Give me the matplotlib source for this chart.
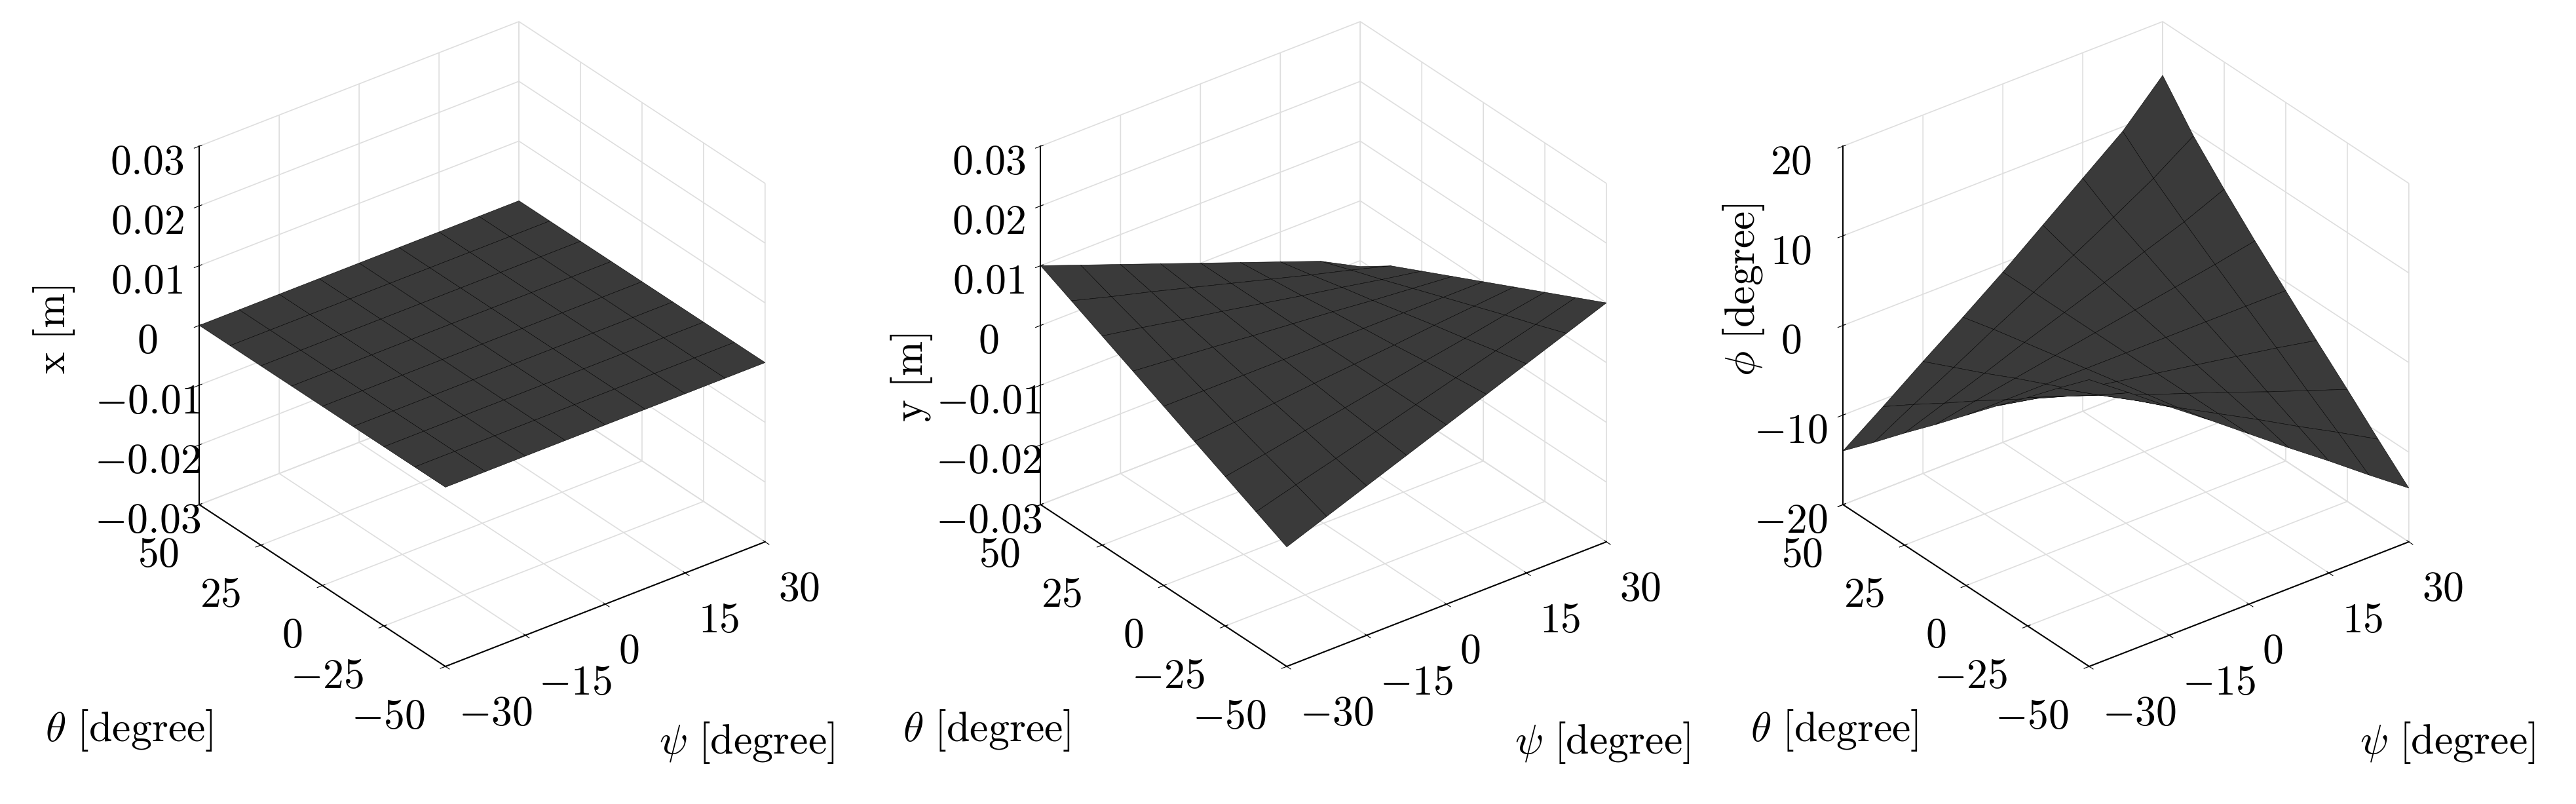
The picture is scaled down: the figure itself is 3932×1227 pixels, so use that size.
import numpy as np
import matplotlib
matplotlib.use("Agg")
import matplotlib.pyplot as plt

plt.rcParams['mathtext.fontset'] = 'cm'
plt.rcParams['font.family'] = ['DejaVu Serif']

psi = [-30, -22.5, -15, -7.5, 0, 7.5, 15, 22.5, 30]
theta = [-50, -37.5, -25, -12.5, 0, 12.5, 25, 37.5, 50]
# rows: theta, cols: psi
x_vals = [[0.0]*9 for _ in range(9)]
# y in mm
y_mm = [
    [-10, -7.5, -5, -2.5, 0, 2.5, 5, 7.5, 10],
    [-7.5, -5.6, -3.8, -1.9, 0, 1.9, 3.8, 5.6, 7.5],
    [-5, -3.8, -2.5, -1.3, 0, 1.3, 2.5, 3.8, 5],
    [-2.5, -1.9, -1.3, -0.6, 0, 0.6, 1.3, 1.9, 2.5],
    [0, 0, 0, 0, 0, 0, 0, 0, 0],
    [2.5, 1.9, 1.3, 0.6, 0, -0.6, -1.3, -1.9, -2.5],
    [5, 3.8, 2.5, 1.3, 0, -1.3, -2.5, -3.8, -5],
    [7.5, 5.6, 3.8, 1.9, 0, -1.9, -3.8, -5.6, -7.5],
    [10, 7.5, 5, 2.5, 0, -2.5, -5, -7.5, -11],
]
phi_vals = [
    [12, 8.8, 5.5, 2.3, -1, -4.3, -7.5, -10.8, -14],
    [8.8, 6.3, 3.9, 1.4, -1, -3.4, -5.9, -8.3, -10.8],
    [5.5, 3.9, 2.3, 0.6, -1, -2.6, -4.3, -5.9, -7.5],
    [2.3, 1.4, 0.6, -0.2, -1, -1.8, -2.6, -3.4, -4.3],
    [-1, -1, -1, -1, -1, -1, -1, -1, -1],
    [-4.3, -3.4, -2.6, -1.8, -1, -0.2, 0.6, 1.4, 2.3],
    [-7.5, -5.9, -4.3, -2.6, -1, 0.6, 2.3, 3.9, 5.8],
    [-10.8, -8.3, -5.9, -3.4, -1, 1.4, 3.9, 6.5, 9.5],
    [-14, -10.8, -7.5, -4.3, -1, 2.5, 6, 9.5, 14],
]
y_vals = (np.array(y_mm) / 1000.0).tolist()

zt_m = [-0.03, -0.02, -0.01, 0, 0.01, 0.02, 0.03]
ztl_m = ['$-0.03$', '$-0.02$', '$-0.01$', '$0$', '$0.01$', '$0.02$', '$0.03$']
panels = [
    (x_vals, r'$\mathrm{x\ [m]}$', zt_m, ztl_m, (-0.03, 0.03)),
    (y_vals, r'$\mathrm{y\ [m]}$', zt_m, ztl_m, (-0.03, 0.03)),
    (phi_vals, r'$\phi\ \mathrm{[degree]}$', [-20, -10, 0, 10, 20],
     ['$-20$', '$-10$', '$0$', '$10$', '$20$'], (-20, 20)),
]
psi_ticks = [-30, -15, 0, 15, 30]
theta_ticks = [-50, -25, 0, 25, 50]

fig = plt.figure(figsize=(39.32, 12.27), dpi=100)
P, T = np.meshgrid(psi, theta)
fs = 46
lfs = 46
lefts = [0.0434, 0.370, 0.6815]
theta_lab = [(0.050, 0.092), (0.383, 0.092), (0.712, 0.092)]
psi_lab = [(0.29, 0.076), (0.622, 0.076), (0.950, 0.076)]
z_lab = [(0.021, 0.59), (0.354, 0.53), (0.677, 0.64)]
for i, (vals, zl, zt, ztl, zlim) in enumerate(panels):
    ax = fig.add_axes([lefts[i], 0.06, 0.28, 1.0], projection='3d')
    ax.set_proj_type('ortho')
    ax.view_init(elev=30.4, azim=-127.6)
    ax.set_box_aspect((1, 1, 1.03), zoom=0.95)
    Z = np.array(vals)
    ax.plot_surface(P, T, Z, rstride=1, cstride=1, color='#3a3a3a', edgecolor='black',
                    linewidth=0.4, shade=False, antialiased=True)
    ax.set_xlim(-30, 30); ax.set_ylim(-50, 50); ax.set_zlim(*zlim)
    ax.set_xticks(psi_ticks)
    ax.set_xticklabels(['$-30$', '$-15$', '$0$', '$15$', '$30$'], fontsize=fs, ha='left')
    ax.set_yticks(theta_ticks)
    ax.set_yticklabels(['$-50$', '$-25$', '$0$', '$25$', '$50$'], fontsize=fs, ha='right')
    ax.set_zticks(zt); ax.set_zticklabels(ztl, fontsize=fs)
    for a in (ax.xaxis, ax.yaxis, ax.zaxis):
        a.set_pane_color((1, 1, 1, 0))
        a._axinfo['grid']['color'] = (0.87, 0.87, 0.87, 1)
        a._axinfo['grid']['linewidth'] = 1.2
        a.line.set_color('black')
        a.line.set_linewidth(1.5)
    ax.tick_params(axis='z', pad=30)
    ax.tick_params(axis='x', pad=14)
    ax.tick_params(axis='y', pad=18)
    fig.text(*theta_lab[i], r'$\theta\ \mathrm{[degree]}$', fontsize=lfs, ha='center', va='center')
    fig.text(*psi_lab[i], r'$\psi\ \mathrm{[degree]}$', fontsize=lfs, ha='center', va='center')
    fig.text(*z_lab[i], zl, fontsize=lfs, ha='center', va='center', rotation=90)

fig.savefig('out.png', dpi=100)
